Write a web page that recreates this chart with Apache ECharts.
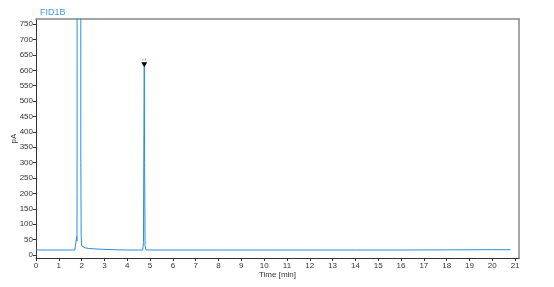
<!DOCTYPE html>
<html><head><meta charset="utf-8">
<script src="https://cdn.jsdelivr.net/npm/echarts@6/dist/echarts.min.js"></script>
<style>html,body{margin:0;padding:0;background:#fff}#c{width:554px;height:287px}</style>
</head><body><div id="c"></div>
<script>
var xTicks = [0,1,2,3,4,5,6,7,8,9,10,11,12,13,14,15,16,17,18,19,20,21];
var yTicks = [0,50,100,150,200,250,300,350,400,450,500,550,600,650,700,750];
var times = [0,0.5,1,1.5,1.7,1.76,1.785,1.795,1.80,1.815,1.95,1.965,1.98,2.0,2.05,2.15,2.3,2.5,2.8,3.2,3.6,4.0,4.5,4.68,4.71,4.73,4.745,4.76,4.78,4.82,5,6,8,10,12,14,16,18,20,20.8];
var signal = [16,16,16,16,16,16.5,60,45,200,5000,5000,300,60,30,25,23,21,20,18.5,17.5,16.5,16,16,16,40,400,612,300,30,16.5,16,16,16,16,16,16,16,16.5,17,17];
var peakLabels = [{t:4.745, v:618, name:'1'}];

var data = times.map(function(t,i){return [t, signal[i]];});
var font = 'Liberation Sans, Arial, sans-serif';
var chart = echarts.init(document.getElementById('c'));
chart.setOption({
  animation:false,
  title:{text:'FID1B', left:35, top:3, textStyle:{color:'#3d9de0', fontSize:9, fontWeight:'normal', fontFamily:font}},
  grid:{left:36, right:35, top:19, bottom:29, containLabel:false, outerBoundsMode:'none'},
  xAxis:[{
    type:'value', min:0, max:21.17,
    name:'Time [min]', nameLocation:'middle', nameGap:13, nameMoveOverlap:false,
    nameTextStyle:{color:'#333', fontSize:8, fontFamily:font},
    axisLine:{show:true, onZero:false, lineStyle:{color:'#333', width:1}},
    axisTick:{show:true, length:3, customValues:xTicks, lineStyle:{color:'#333'}},
    axisLabel:{customValues:xTicks, color:'#333', fontSize:8, fontFamily:font, margin:4},
    splitLine:{show:false}
  },{
    type:'value', position:'top', min:0, max:21.17,
    axisLine:{show:true, onZero:false, lineStyle:{color:'#888', width:1.5}},
    axisTick:{show:false}, axisLabel:{show:false}, splitLine:{show:false}
  }],
  yAxis:[{
    type:'value', min:-10, max:767,
    name:'pA', nameLocation:'middle', nameGap:18, nameRotate:90, nameMoveOverlap:false,
    nameTextStyle:{color:'#333', fontSize:8, fontFamily:font},
    axisLine:{show:true, onZero:false, lineStyle:{color:'#333', width:1}},
    axisTick:{show:true, length:3, customValues:yTicks, lineStyle:{color:'#333'}},
    axisLabel:{customValues:yTicks, color:'#333', fontSize:8, fontFamily:font, margin:3},
    splitLine:{show:false}
  },{
    type:'value', position:'right', min:-10, max:767,
    axisLine:{show:true, onZero:false, lineStyle:{color:'#888', width:1.5}},
    axisTick:{show:false}, axisLabel:{show:false}, splitLine:{show:false}
  }],
  series:[{
    type:'line', data:data, showSymbol:false, symbol:'none', clip:true,
    lineStyle:{color:'#2a8fd8', width:1},
    markPoint:{
      symbol:'triangle', symbolRotate:180, symbolSize:[6,5], silent:true,
      itemStyle:{color:'#000'},
      label:{show:true, position:'top', distance:1, formatter:function(p){return p.name;}, rotate:90, align:'left', verticalAlign:'middle', color:'#6fb3e3', fontSize:6, fontFamily:font},
      data:peakLabels.map(function(p){return {name:p.name, coord:[p.t, p.v]};})
    }
  }]
});
</script></body></html>
